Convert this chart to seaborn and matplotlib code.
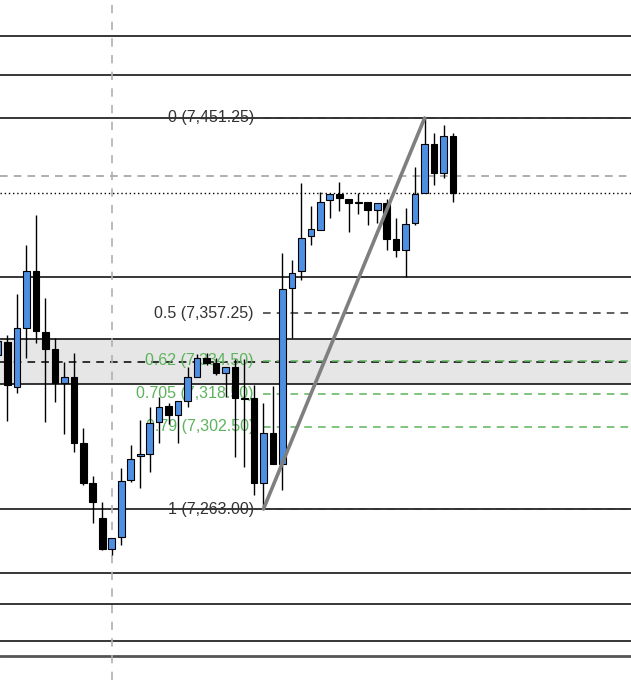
import numpy as np
import pandas as pd
import seaborn as sns
import matplotlib.pyplot as plt

# ---------------------------------------------------------------
#  DATA (prices)
# ---------------------------------------------------------------
opens = [7337.15, 7343.41, 7321.74, 7350.15, 7377.59, 7348.22, 7340.04, 7323.67, 7326.55, 7294.78,
         7275.53, 7258.67, 7243.75, 7249.53, 7276.97, 7288.52, 7289.48, 7304.89, 7312.59, 7308.26,
         7315.00, 7326.55, 7335.70, 7333.30, 7328.48, 7331.37, 7316.45, 7316.45, 7275.53, 7299.59,
         7284.67, 7369.41, 7377.59, 7394.44, 7397.33, 7411.77, 7414.66, 7412.25, 7410.33, 7410.81,
         7406.96, 7410.33, 7393.00, 7387.70, 7400.70, 7415.14, 7438.73, 7424.77, 7442.58]
highs = [7346.78, 7346.78, 7366.50, 7390.11, 7404.55, 7364.58, 7345.33, 7333.78, 7338.11, 7302.00,
         7278.89, 7266.38, 7249.05, 7282.74, 7293.81, 7305.85, 7312.11, 7316.93, 7314.04, 7315.00,
         7331.37, 7337.63, 7338.11, 7335.70, 7331.37, 7335.22, 7335.22, 7322.70, 7314.04, 7322.22,
         7386.25, 7382.89, 7419.96, 7408.89, 7415.62, 7414.66, 7420.44, 7412.25, 7415.14, 7410.81,
         7410.33, 7412.25, 7403.11, 7407.92, 7427.66, 7451.25, 7444.03, 7447.88, 7444.03]
lows = [7333.78, 7305.37, 7318.85, 7335.70, 7342.93, 7304.89, 7314.52, 7299.11, 7290.44, 7274.80,
        7256.27, 7243.27, 7240.86, 7245.68, 7276.00, 7273.12, 7280.82, 7294.78, 7303.93, 7294.78,
        7312.11, 7326.55, 7332.33, 7327.52, 7316.93, 7288.04, 7283.23, 7269.75, 7263.00, 7284.67,
        7272.16, 7345.33, 7373.26, 7390.11, 7397.33, 7403.11, 7406.48, 7396.37, 7405.03, 7399.74,
        7400.70, 7387.70, 7384.33, 7374.70, 7399.74, 7415.14, 7418.99, 7422.36, 7410.81]
closes = [7343.89, 7322.71, 7350.15, 7377.59, 7348.70, 7340.04, 7323.67, 7326.55, 7294.78, 7275.53,
          7266.38, 7243.75, 7249.05, 7276.49, 7287.08, 7289.48, 7304.41, 7312.11, 7308.26, 7315.00,
          7326.55, 7335.70, 7333.30, 7328.48, 7331.37, 7316.45, 7315.96, 7275.53, 7299.59, 7284.67,
          7368.92, 7376.63, 7393.48, 7397.81, 7410.81, 7414.66, 7412.74, 7410.33, 7410.81, 7406.96,
          7410.33, 7393.00, 7387.70, 7400.22, 7414.66, 7438.73, 7424.77, 7442.58, 7415.14]

# horizontal support / resistance lines
level_lines = [7490.70, 7472.00, 7451.25, 7374.70, 7344.85, 7323.20, 7263.00, 7232.20, 7217.25, 7199.45]
bottom_line = 7192.20
zone = (7323.20, 7344.85)
zone_mid = 7334.00
gray_dash_level = 7423.30
last_price = 7415.14
crosshair_bar = 12

# fibonacci retracement
fib_ratios = ['0', '0.5', '0.62', '0.705', '0.79', '1']
fib_prices = [7451.25, 7357.25, 7334.50, 7318.50, 7302.50, 7263.00]
fib_colors = ['#333333', '#333333', '#5cb35c', '#5cb35c', '#5cb35c', '#333333']
fib_start, fib_end = 28, 45

df = pd.DataFrame({'open': opens, 'high': highs, 'low': lows, 'close': closes})
df['idx'] = np.arange(len(df))
df['up'] = df['close'] >= df['open']

# ---------------------------------------------------------------
#  PLOT
# ---------------------------------------------------------------
sns.set_theme(style='white')
plt.rcParams['font.family'] = ['Liberation Sans', 'DejaVu Sans']

fig = plt.figure(figsize=(6.31, 6.8), dpi=100)
ax = fig.add_axes([0, 0, 1, 1])
ax.set_xlim(0.211, 66.77)
ax.set_ylim(7180.68, 7508.06)
ax.axis('off')

# grey zone
ax.axhspan(zone[0], zone[1], color='#e6e6e6', zorder=0, lw=0)
ax.axhline(zone_mid, color='black', lw=1.1, ls=(0, (5, 4)), zorder=1)

for lv in level_lines:
    ax.axhline(lv, color='black', lw=1.1, zorder=1)
ax.axhline(bottom_line, color='#555555', lw=2.0, zorder=1)
ax.axhline(gray_dash_level, color='#9a9a9a', lw=1.1, ls=(0, (5, 4)), zorder=1)
ax.axhline(last_price, color='black', lw=1.0, ls=(0, (1, 2)), zorder=1)
ax.axvline(crosshair_bar, color='#b0b0b0', lw=1.2, ls=(0, (5, 5)), zorder=1)

# fib levels + labels
for r, p, c in zip(fib_ratios, fib_prices, fib_colors):
    ax.plot([fib_start, 70], [p, p], color=c, lw=1.1, ls=(0, (5, 4)), zorder=1.5)
    ax.text(fib_start - 1.0, p, f'{r} ({p:,.2f})', ha='right', va='center',
            fontsize=11.5, color=c, zorder=1.6)

# candles
ax.vlines(df['idx'], df['low'], df['high'], color='black', lw=1.0, zorder=3)
body_bottom = np.minimum(df['open'], df['close'])
body_height = np.maximum((df['close'] - df['open']).abs(), 0.7)
face = np.where(df['up'], '#4d90e3', 'black')
ax.bar(df['idx'], body_height, bottom=body_bottom, width=0.7, color=face,
       edgecolor='black', linewidth=0.8, zorder=4)

# fib swing line
sns.lineplot(x=[fib_start, fib_end], y=[fib_prices[-1], fib_prices[0]], ax=ax,
             color='#7f7f80', lw=2.6, zorder=5)

fig.savefig('out.png', dpi=100)
